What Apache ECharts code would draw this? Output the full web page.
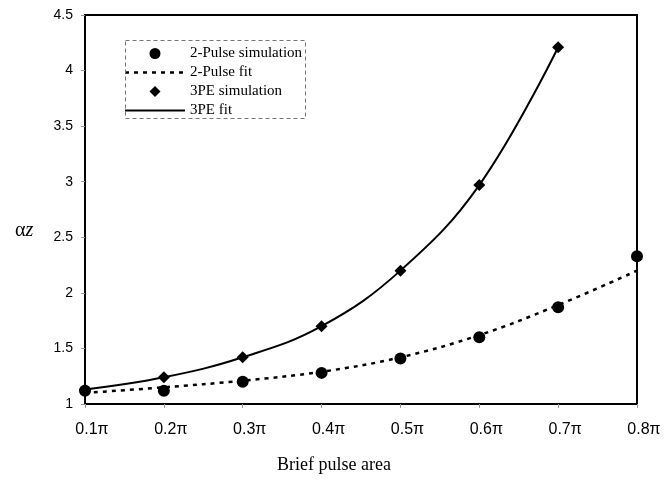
<!DOCTYPE html>
<html>
<head>
<meta charset="utf-8">
<script src="https://cdn.jsdelivr.net/npm/echarts@6/dist/echarts.min.js"></script>
<style>html,body{margin:0;padding:0;background:#fff;}#c{width:667px;height:481px;}</style>
</head>
<body>
<div id="c"></div>
<script>
var categories = ['0.1π', '0.2π', '0.3π', '0.4π', '0.5π', '0.6π', '0.7π', '0.8π'];
var twoPulseSim = [1.12, 1.12, 1.20, 1.28, 1.41, 1.60, 1.87, 2.33];
var twoPulseFit = [1.10, 1.15, 1.21, 1.29, 1.42, 1.62, 1.89, 2.20];
var threePESim = [1.13, 1.24, 1.42, 1.70, 2.20, 2.97, 4.21];
var threePEFit = [1.13, 1.24, 1.42, 1.70, 2.20, 2.97, 4.21];
var yTicks = {min: 1, max: 4.5, interval: 0.5};

var chart = echarts.init(document.getElementById('c'), null, {renderer: 'canvas'});
var serif = '"Liberation Serif", "DejaVu Serif", serif';
var sans = '"Liberation Sans", Arial, sans-serif';
var dashIcon = 'path://M0,0h4v2.5h-4z M9,0h4v2.5h-4z M18,0h4v2.5h-4z M27,0h4v2.5h-4z M36,0h4v2.5h-4z M45,0h4v2.5h-4z M54,0h4v2.5h-4z M60,0h0.01v2.5h-0.01z';
var solidIcon = 'path://M0,0h60v2h-60z';
var diamondIcon = 'path://M5,0L10,5L5,10L0,5Z';
chart.setOption({
  animation: false,
  backgroundColor: '#fff',
  grid: {left: 85, right: 30, top: 15, bottom: 77, show: true, borderColor: '#000', borderWidth: 2},
  xAxis: {
    type: 'category', data: categories, boundaryGap: false,
    axisLine: {lineStyle: {color: '#000', width: 2}},
    axisTick: {show: true, length: 4, lineStyle: {color: '#999'}},
    axisLabel: {color: '#000', fontFamily: sans, fontSize: 16, margin: 18, padding: [0, 0, 0, 14]},
    splitLine: {show: false}
  },
  yAxis: {
    type: 'value', min: yTicks.min, max: yTicks.max, interval: yTicks.interval,
    axisLine: {show: true, lineStyle: {color: '#000', width: 2}},
    axisTick: {show: true, length: 4, lineStyle: {color: '#999'}},
    axisLabel: {color: '#000', fontFamily: sans, fontSize: 14, margin: 12},
    splitLine: {show: false}
  },
  legend: {
    orient: 'vertical', left: 120, top: 41, itemWidth: 60, itemHeight: 11, itemGap: 4,
    symbolKeepAspect: true,
    textStyle: {fontFamily: serif, fontSize: 15, color: '#000'},
    data: [
      {name: '2-Pulse simulation', icon: 'circle'},
      {name: '2-Pulse fit', icon: dashIcon},
      {name: '3PE simulation', icon: diamondIcon},
      {name: '3PE fit', icon: solidIcon}
    ]
  },
  graphic: [
    {type: 'rect', left: 123, top: 38, shape: {width: 180, height: 78},
     style: {fill: 'none', stroke: '#777', lineWidth: 1, lineDash: [4, 3]}, z: 10},
    {type: 'text', left: 15, top: 221,
     style: {rich: {a: {fontFamily: serif, fontSize: 20, fill: '#000'}, z: {fontFamily: serif, fontSize: 20, fontStyle: 'italic', fill: '#000'}},
             text: '{a|α}{z|z}'}},
    {type: 'text', left: 277, top: 456,
     style: {text: 'Brief pulse area', font: '18px "Liberation Serif", serif', fill: '#000'}}
  ],
  series: [
    {name: '2-Pulse fit', type: 'line', data: twoPulseFit, smooth: 0.4, symbol: 'none',
     lineStyle: {color: '#000', width: 2.5, type: [4, 5]}, itemStyle: {color: '#000'}, z: 2},
    {name: '3PE fit', type: 'line', data: threePEFit, smooth: 0.4, symbol: 'none',
     lineStyle: {color: '#000', width: 2}, itemStyle: {color: '#000'}, z: 2},
    {name: '2-Pulse simulation', type: 'scatter', data: twoPulseSim, symbol: 'circle', symbolSize: 12,
     itemStyle: {color: '#000', opacity: 1}, z: 3},
    {name: '3PE simulation', type: 'scatter', data: threePESim, symbol: 'diamond', symbolSize: 12,
     itemStyle: {color: '#000', opacity: 1}, z: 3}
  ]
});
</script>
</body>
</html>
